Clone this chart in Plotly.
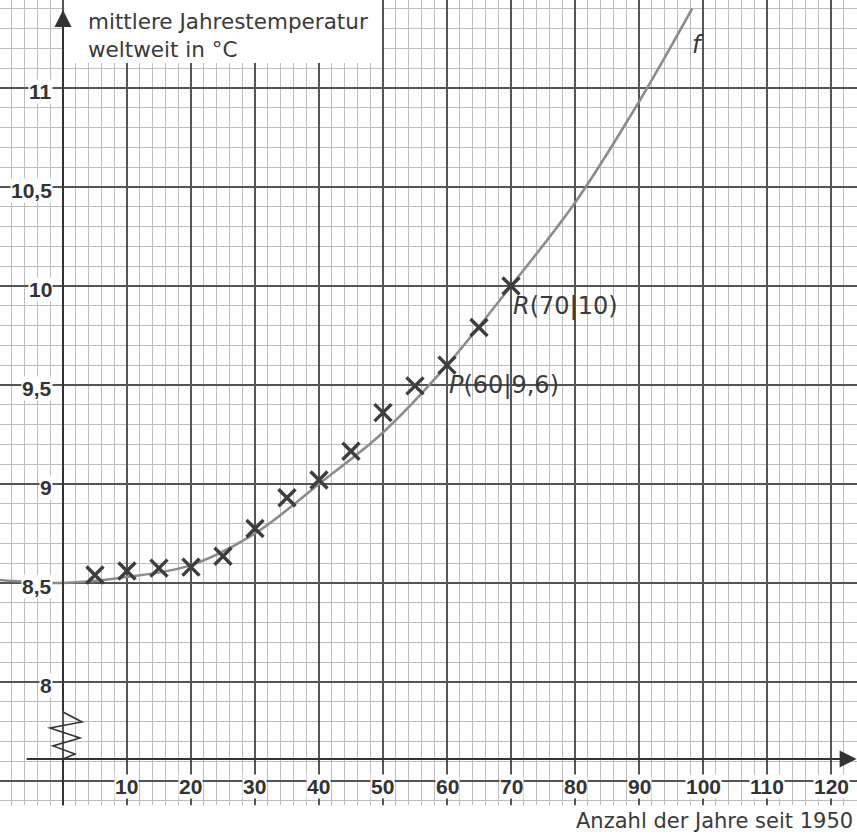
import plotly.graph_objects as go

# ---- data ----
years = [5, 10, 15, 20, 25, 30, 35, 40, 45, 50, 55, 60, 65, 70]
temps = [8.54, 8.56, 8.575, 8.58, 8.635, 8.775, 8.93, 9.02, 9.165, 9.36, 9.495, 9.60, 9.79, 10.0]

curve_x = [-10, 0, 10, 20, 30, 40, 50, 60, 70, 80, 90, 98.3]
curve_y = [8.515, 8.50, 8.53, 8.59, 8.75, 9.00, 9.26, 9.60, 10.0, 10.42, 10.93, 11.40]

x_tick_vals = [10, 20, 30, 40, 50, 60, 70, 80, 90, 100, 110, 120]
x_tick_text = ["10", "20", "30", "40", "50", "60", "70", "80", "90", "100", "110", "120"]
y_tick_vals = [11, 10.5, 10, 9.5, 9, 8.5, 8]
y_tick_text = ["11", "10,5", "10", "9,5", "9", "8,5", "8"]

point_labels = [("<i>R</i>(70|10)", 70, 10.0), ("<i>P</i>(60|9,6)", 60, 9.6)]

# ---- geometry ----
X_RANGE = [-9.84, 124.06]
Y_RANGE = [7.222, 11.444]
AXIS_Y = 7.611
GRID_BOTTOM = 7.377

TXT = "#333333"
fig = go.Figure()

fig.add_trace(go.Scatter(
    x=curve_x, y=curve_y, mode="lines",
    line=dict(color="#8c8c8c", width=2.6, shape="spline", smoothing=1.0),
    hoverinfo="skip", showlegend=False))

fig.add_trace(go.Scatter(
    x=years, y=temps, mode="markers",
    marker=dict(symbol="x-thin", size=17, line=dict(width=3.4, color="#3d3d3d"), color="#3d3d3d"),
    showlegend=False))

shapes = []
# white areas without grid
shapes.append(dict(type="rect", xref="x", yref="y", x0=-20, x1=130, y0=7.0, y1=GRID_BOTTOM,
                   fillcolor="white", line=dict(width=0), layer="between"))
shapes.append(dict(type="rect", xref="x", yref="y", x0=0.2, x1=49.8, y0=11.126, y1=11.6,
                   fillcolor="white", line=dict(width=0), layer="between"))
# lower part of y axis (below x axis)
shapes.append(dict(type="line", xref="x", yref="y", x0=0, x1=0, y0=GRID_BOTTOM, y1=AXIS_Y,
                   line=dict(color="#333333", width=2)))
# axis break zigzag
zz_x = [0, 2.97, -2.03, 2.66, -1.56, 1.875, 0]
zz_y = [7.848, 7.798, 7.768, 7.717, 7.677, 7.636, AXIS_Y]
path = "M " + " L ".join(f"{a},{b}" for a, b in zip(zz_x, zz_y))
shapes.append(dict(type="path", xref="x", yref="y", path=path,
                   line=dict(color="#333333", width=1.6)))

annotations = []
# y axis with arrow
annotations.append(dict(x=0, y=11.394, ax=0, ay=7.848, xref="x", yref="y", axref="x", ayref="y",
                        text="", showarrow=True, arrowhead=2, arrowsize=1.7, arrowwidth=2,
                        arrowcolor="#333333"))
# x axis with arrow
annotations.append(dict(x=124.0, y=AXIS_Y, ax=-5.9, ay=AXIS_Y, xref="x", yref="y", axref="x", ayref="y",
                        text="", showarrow=True, arrowhead=2, arrowsize=1.7, arrowwidth=2,
                        arrowcolor="#333333"))

for v, t in zip(x_tick_vals, x_tick_text):
    annotations.append(dict(x=v, y=7.47, xref="x", yref="y", text=t, showarrow=False,
                            xanchor="center", yanchor="middle", bgcolor="white", borderpad=0,
                            font=dict(family="Liberation Sans", size=21, color=TXT, weight="bold")))
for v, t in zip(y_tick_vals, y_tick_text):
    annotations.append(dict(x=-1.6, y=v - 0.02, xref="x", yref="y", text=t, showarrow=False,
                            xanchor="right", yanchor="middle", bgcolor="white", borderpad=0,
                            font=dict(family="Liberation Sans", size=21, color=TXT, weight="bold")))

annotations.append(dict(x=3.6, y=11.41, xref="x", yref="y", xanchor="left", yanchor="top",
                        align="left", showarrow=False,
                        text="mittlere Jahrestemperatur<br>weltweit in °C",
                        font=dict(family="DejaVu Sans", size=21.5, color="#3a3a3a")))
annotations.append(dict(x=79.8, y=7.30, xref="x", yref="y", xanchor="left", yanchor="middle",
                        showarrow=False, text="Anzahl der Jahre seit 1950",
                        font=dict(family="DejaVu Sans", size=21, color="#3a3a3a")))
annotations.append(dict(x=99.2, y=11.217, xref="x", yref="y", showarrow=False, text="<i>f</i>",
                        font=dict(family="DejaVu Sans", size=24, color="#3a3a3a")))
for t, px, py in point_labels:
    annotations.append(dict(x=px, y=py, xref="x", yref="y", text=t, showarrow=False,
                            xanchor="left", yanchor="top", xshift=0, yshift=-4,
                            font=dict(family="DejaVu Sans", size=24, color="#3a3a3a")))

fig.update_layout(
    width=857, height=836, margin=dict(l=0, r=0, t=0, b=0, pad=0, autoexpand=False),
    paper_bgcolor="white", plot_bgcolor="white",
    shapes=shapes, annotations=annotations, showlegend=False,
    xaxis=dict(range=X_RANGE, tick0=0, dtick=10, showgrid=True, gridcolor="#555555", gridwidth=2,
               minor=dict(tick0=0, dtick=2, showgrid=True, gridcolor="#bdbdbd", gridwidth=1.4),
               showticklabels=False, zeroline=False, showline=False, ticks=""),
    yaxis=dict(range=Y_RANGE, tick0=0, dtick=0.5, showgrid=True, gridcolor="#555555", gridwidth=2,
               minor=dict(tick0=0, dtick=0.1, showgrid=True, gridcolor="#bdbdbd", gridwidth=1.4),
               showticklabels=False, zeroline=False, showline=False, ticks=""),
)

fig.write_html("out.html", config={"displayModeBar": False},
               post_script="document.body.style.margin='0px';document.body.style.overflow='hidden';")
